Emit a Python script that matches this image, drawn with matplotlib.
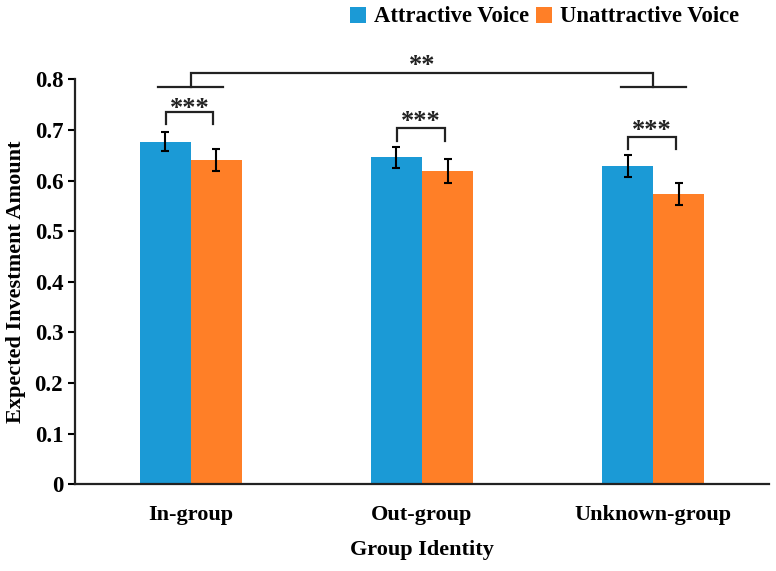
import matplotlib
matplotlib.use("Agg")
import matplotlib.pyplot as plt
import numpy as np
from matplotlib.patches import Patch

groups = ["In-group", "Out-group", "Unknown-group"]
attractive = [0.677, 0.646, 0.629]
attractive_err = [0.019, 0.0205, 0.0215]
unattractive = [0.641, 0.618, 0.573]
unattractive_err = [0.0215, 0.0237, 0.0215]
series_names = ["Attractive Voice", "Unattractive Voice"]
pair_bracket_top = [0.736, 0.703, 0.687]
pair_star_y = [0.7545, 0.7295, 0.711]
pair_labels = ["***", "***", "***"]
yticks = [0, 0.1, 0.2, 0.3, 0.4, 0.5, 0.6, 0.7, 0.8]
ytick_labels = ["0", "0.1", "0.2", "0.3", "0.4", "0.5", "0.6", "0.7", "0.8"]

BLUE = "#1B9AD6"
ORANGE = "#FF7F27"

plt.rcParams["font.family"] = ["Liberation Serif", "DejaVu Serif"]
plt.rcParams["font.weight"] = "bold"

fig = plt.figure(figsize=(7.76, 5.71), dpi=100)
ax = fig.add_axes([75 / 776, 86.7 / 571, 694 / 776, 405 / 571])

x = np.arange(len(groups))
w = 0.221
ax.bar(x - w / 2, attractive, w, color=BLUE, linewidth=0)
ax.bar(x + w / 2, unattractive, w, color=ORANGE, linewidth=0)
ekw = dict(fmt="none", ecolor="black", elinewidth=1.5, capsize=3, capthick=1.5)
ax.errorbar(x - w / 2, attractive, yerr=attractive_err, **ekw)
ax.errorbar(x + w / 2, unattractive, yerr=unattractive_err, **ekw)

lw = 1.6
lc = "#222222"
star_fs = 19
star_off = 0.025
# pairwise brackets
for i in range(len(groups)):
    top = pair_bracket_top[i]
    xl, xr = x[i] - 0.108, x[i] + 0.098
    ax.plot([xl, xl, xr, xr], [top - 0.024, top, top, top - 0.024],
            color=lc, lw=lw, clip_on=False, solid_joinstyle="miter")
    ax.text((xl + xr) / 2, pair_star_y[i] - star_off, pair_labels[i], ha="center",
            va="baseline", fontsize=star_fs, fontweight="bold", color="#222222")

# overall bracket In-group vs Unknown-group
base_y = 0.785
top_y = 0.813
for gi in [0, 2]:
    ax.plot([x[gi] - 0.14, x[gi] + 0.14], [base_y, base_y], color=lc, lw=lw, clip_on=False)
ax.plot([x[0], x[0], x[2], x[2]], [base_y, top_y, top_y, base_y], color=lc, lw=lw,
        clip_on=False, solid_joinstyle="miter")
ax.text(x[1], 0.840 - star_off, "**", ha="center", va="baseline", fontsize=star_fs,
        fontweight="bold", color="#222222")

ax.set_xlim(-0.5, 2.5)
ax.set_ylim(0, 0.8)
ax.set_yticks(yticks)
ax.set_yticklabels(ytick_labels)
ax.set_xticks(x)
ax.set_xticklabels(groups)
ax.tick_params(axis="y", direction="out", length=5, width=1.5, pad=3.5, labelsize=16.5)
ax.tick_params(axis="x", length=0, pad=15, labelsize=16)
for lab in ax.get_xticklabels() + ax.get_yticklabels():
    lab.set_fontweight("bold")

for s in ["top", "right"]:
    ax.spines[s].set_visible(False)
for s in ["left", "bottom"]:
    ax.spines[s].set_linewidth(1.6)
    ax.spines[s].set_color("#222222")

ax.set_xlabel("Group Identity", fontsize=16, fontweight="bold", labelpad=11)
ax.set_ylabel("Expected Investment Amount", fontsize=16, fontweight="bold", labelpad=6)

handles = [Patch(facecolor=BLUE, edgecolor="none"), Patch(facecolor=ORANGE, edgecolor="none")]
fig.legend(handles, series_names, loc="center", bbox_to_anchor=(544.5 / 776, 1 - 17 / 571),
           ncol=2, frameon=False, handlelength=0.7, handleheight=0.7,
           handletextpad=0.36, columnspacing=0.3, borderpad=0, prop={"weight": "bold", "size": 16.3})

fig.savefig("out.png", dpi=100)
